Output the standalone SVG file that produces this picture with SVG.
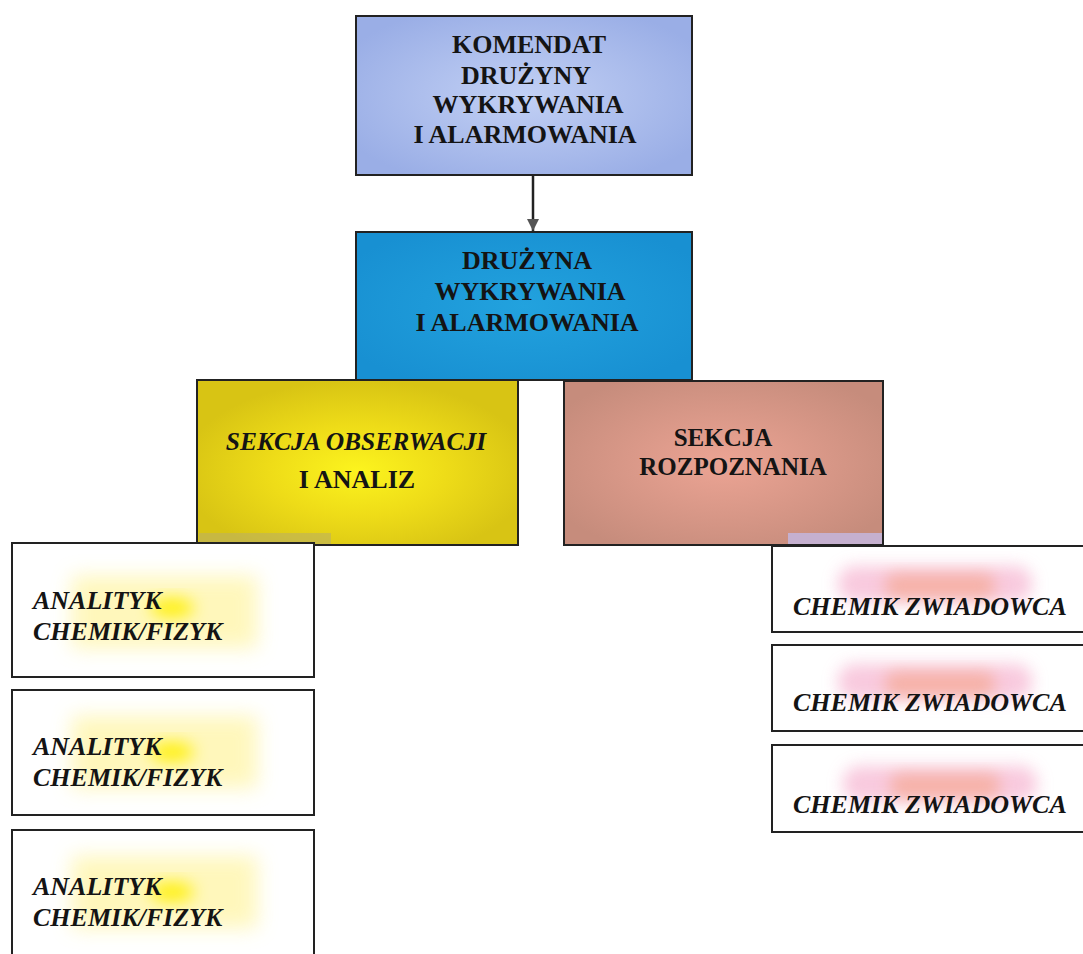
<svg xmlns="http://www.w3.org/2000/svg" width="1083" height="954" viewBox="0 0 1083 954">
<defs>
<radialGradient id="gTop" cx="0.5" cy="0.5" r="0.6">
<stop offset="0" stop-color="#c2d0f4"/><stop offset="1" stop-color="#9aaee6"/>
</radialGradient>
<radialGradient id="gMid" cx="0.5" cy="0.5" r="0.6">
<stop offset="0" stop-color="#22a2de"/><stop offset="1" stop-color="#1890d2"/>
</radialGradient>
<radialGradient id="gYel" cx="0.5" cy="0.55" r="0.55">
<stop offset="0" stop-color="#fcf41e"/><stop offset="0.5" stop-color="#eedc18"/><stop offset="1" stop-color="#d8c414"/>
</radialGradient>
<radialGradient id="gSal" cx="0.5" cy="0.5" r="0.6">
<stop offset="0" stop-color="#eca494"/><stop offset="1" stop-color="#c68c7c"/>
</radialGradient>
<filter id="blur" x="-50%" y="-50%" width="200%" height="200%"><feGaussianBlur stdDeviation="10"/></filter>
<filter id="blur2" x="-50%" y="-50%" width="200%" height="200%"><feGaussianBlur stdDeviation="8"/></filter>
<marker id="arr" viewBox="0 0 10 10" refX="10" refY="5" markerWidth="5" markerHeight="5" orient="auto" markerUnits="strokeWidth">
<path d="M0,0 L10,5 L0,10 z" fill="#555"/>
</marker>
</defs>
<style>
.box{stroke:#222;stroke-width:2}
.up{font-family:"Liberation Serif","Times New Roman",serif;font-weight:bold;fill:#141414;text-anchor:middle}
.it{font-family:"Liberation Serif","Times New Roman",serif;font-weight:bold;font-style:italic;fill:#141414}
.gy1{fill:#fff6b0;opacity:0.85;filter:url(#blur)}
.gy2{fill:#fff000;opacity:0.9;filter:url(#blur2)}
.gp1{fill:#f6b4d0;opacity:0.7;filter:url(#blur2)}
.gp2{fill:#f4a080;opacity:0.6;filter:url(#blur2)}
</style>
<rect width="1083" height="954" fill="#ffffff"/>
<g id="connectors">
<line x1="533" y1="175" x2="533" y2="231" stroke="#222" stroke-width="2.5" marker-end="url(#arr)"/>
</g>
<g id="komendant">
<rect class="box" x="356" y="16" width="336" height="159" fill="url(#gTop)"/>
<text class="up" font-size="26"><tspan x="529" y="53">KOMENDAT</tspan><tspan x="526" y="84">DRUŻYNY</tspan><tspan x="528" y="113">WYKRYWANIA</tspan><tspan x="525" y="143">I ALARMOWANIA</tspan></text>
</g>
<g id="druzyna">
<rect class="box" x="356" y="232" width="336" height="148" fill="url(#gMid)"/>
<text class="up" font-size="26"><tspan x="527" y="269">DRUŻYNA</tspan><tspan x="530" y="300">WYKRYWANIA</tspan><tspan x="527" y="331">I ALARMOWANIA</tspan></text>
</g>
<g id="sekcja-obserwacji">
<rect class="box" x="197" y="380" width="321" height="165" fill="url(#gYel)"/>
<rect x="199" y="533" width="132" height="11" fill="#bdb060" opacity="0.6"/>
<text class="it" font-size="25.5" x="356" y="450" text-anchor="middle">SEKCJA OBSERWACJI</text>
<text class="up" font-size="26" x="357" y="488">I ANALIZ</text>
</g>
<g id="sekcja-rozpoznania">
<rect class="box" x="564" y="381" width="319" height="164" fill="url(#gSal)"/>
<rect x="788" y="533" width="94" height="11" fill="#c4b4d8" opacity="0.9"/>
<text class="up" font-size="25"><tspan x="723" y="446">SEKCJA</tspan><tspan x="733" y="475">ROZPOZNANIA</tspan></text>
</g>
<g id="analityk-1">
<rect class="box" x="12" y="543" width="302" height="134" fill="#ffffff"/>
<rect class="gy1" x="72" y="576" width="185" height="72"/>
<ellipse class="gy2" cx="172" cy="608" rx="22" ry="10"/>
<text class="it" font-size="26"><tspan x="33" y="609">ANALITYK</tspan><tspan x="33" y="640">CHEMIK/FIZYK</tspan></text>
</g>
<g id="analityk-2">
<rect class="box" x="12" y="690" width="302" height="125" fill="#ffffff"/>
<rect class="gy1" x="72" y="716" width="185" height="72"/>
<ellipse class="gy2" cx="172" cy="752" rx="22" ry="10"/>
<text class="it" font-size="26"><tspan x="33" y="755">ANALITYK</tspan><tspan x="33" y="786">CHEMIK/FIZYK</tspan></text>
</g>
<g id="analityk-3">
<rect class="box" x="12" y="830" width="302" height="135" fill="#ffffff"/>
<rect class="gy1" x="72" y="856" width="185" height="72"/>
<ellipse class="gy2" cx="172" cy="892" rx="22" ry="10"/>
<text class="it" font-size="26"><tspan x="33" y="895">ANALITYK</tspan><tspan x="33" y="926">CHEMIK/FIZYK</tspan></text>
</g>
<g id="chemik-1">
<rect class="box" x="772" y="546" width="320" height="86" fill="#ffffff"/>
<rect class="gp1" x="838" y="566" width="194" height="36" rx="16"/>
<rect class="gp2" x="885" y="574" width="110" height="24" rx="10"/>
<text class="it" font-size="26" x="793" y="615">CHEMIK ZWIADOWCA</text>
</g>
<g id="chemik-2">
<rect class="box" x="772" y="645" width="320" height="86" fill="#ffffff"/>
<rect class="gp1" x="838" y="664" width="194" height="36" rx="16"/>
<rect class="gp2" x="885" y="672" width="110" height="24" rx="10"/>
<text class="it" font-size="26" x="793" y="711">CHEMIK ZWIADOWCA</text>
</g>
<g id="chemik-3">
<rect class="box" x="772" y="745" width="320" height="87" fill="#ffffff"/>
<rect class="gp1" x="843" y="766" width="194" height="36" rx="16"/>
<rect class="gp2" x="890" y="774" width="110" height="24" rx="10"/>
<text class="it" font-size="26" x="793" y="813">CHEMIK ZWIADOWCA</text>
</g>
</svg>
